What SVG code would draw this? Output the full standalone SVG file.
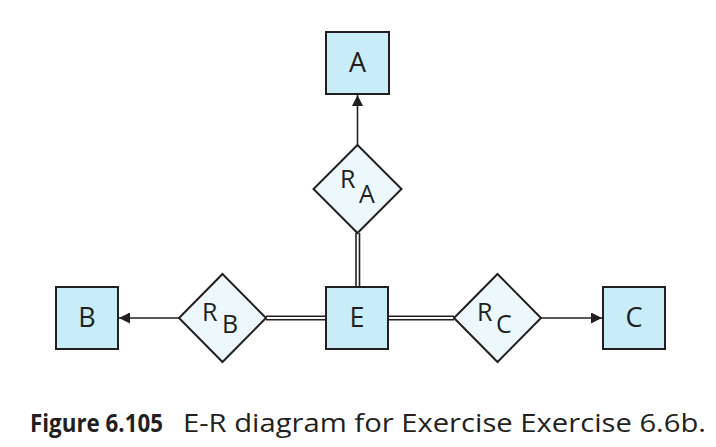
<svg xmlns="http://www.w3.org/2000/svg" width="716" height="447" viewBox="0 0 716 447">
<style>
.ent{fill:#c9ecf9;stroke:#231f20;stroke-width:2}
.rel{fill:#edf8fd;stroke:#231f20;stroke-width:2}
.lbl{font-family:"Open Sans","Noto Sans","Liberation Sans",sans-serif;font-size:27px;fill:#231f20}
.rl{font-family:"Open Sans","Noto Sans","Liberation Sans",sans-serif;font-size:25px;fill:#231f20}
.ln{stroke:#231f20;stroke-width:1.6;fill:none}
.cap{font-family:"Open Sans","Noto Sans","Liberation Sans",sans-serif;font-size:25px;fill:#231f20}
</style>
<defs>
<marker id="arr" viewBox="0 0 10 10" refX="10" refY="5" markerWidth="11" markerHeight="11" markerUnits="userSpaceOnUse" orient="auto">
<path d="M0,0 L10,5 L0,10 z" fill="#231f20"/>
</marker>
</defs>
<g id="connectors">
<line class="ln" x1="357.5" y1="145" x2="357.5" y2="95" marker-end="url(#arr)"/>
<line class="ln" x1="179" y1="318" x2="119" y2="318" marker-end="url(#arr)"/>
<line class="ln" x1="541" y1="318" x2="602" y2="318" marker-end="url(#arr)"/>
<line class="ln" x1="356" y1="233" x2="356" y2="287"/>
<line class="ln" x1="359.5" y1="233" x2="359.5" y2="287"/>
<line class="ln" x1="266" y1="316.3" x2="326" y2="316.3"/>
<line class="ln" x1="266" y1="319.8" x2="326" y2="319.8"/>
<line class="ln" x1="388" y1="316.3" x2="454" y2="316.3"/>
<line class="ln" x1="388" y1="319.8" x2="454" y2="319.8"/>
</g>
<g id="A">
<rect class="ent" x="326" y="32" width="63" height="62"/>
<text class="lbl" x="357.5" y="72" text-anchor="middle">A</text>
</g>
<g id="RA">
<polygon class="rel" points="357.5,145 401.5,189 357.5,233 313.5,189"/>
<text class="rl" x="340" y="188">R</text>
<text class="rl" x="359" y="203">A</text>
</g>
<g id="B">
<rect class="ent" x="56" y="287" width="62" height="62"/>
<text class="lbl" x="87" y="327" text-anchor="middle">B</text>
</g>
<g id="RB">
<polygon class="rel" points="222.5,274 266,318 222.5,362 179,318"/>
<text class="rl" x="202" y="321">R</text>
<text class="rl" x="222" y="333">B</text>
</g>
<g id="E">
<rect class="ent" x="326" y="287" width="62" height="62"/>
<text class="lbl" x="357" y="327" text-anchor="middle">E</text>
</g>
<g id="RC">
<polygon class="rel" points="497.5,274 541,318 497.5,362 454,318"/>
<text class="rl" x="477" y="321">R</text>
<text class="rl" x="496" y="333">C</text>
</g>
<g id="C">
<rect class="ent" x="603" y="287" width="62" height="62"/>
<text class="lbl" x="634" y="327" text-anchor="middle">C</text>
</g>
<text class="cap" x="30" y="432" font-weight="bold" textLength="133" lengthAdjust="spacingAndGlyphs">Figure 6.105</text>
<text class="cap" x="183" y="432" textLength="523" lengthAdjust="spacingAndGlyphs">E-R diagram for Exercise Exercise 6.6b.</text>
</svg>
